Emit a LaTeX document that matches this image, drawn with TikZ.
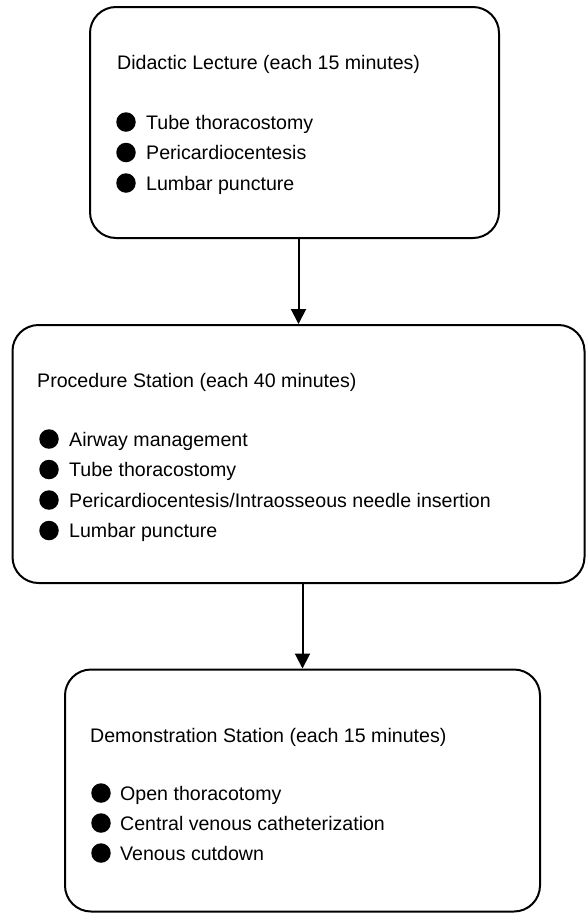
\documentclass[tikz,border=0pt]{standalone}
\usepackage{fontspec}
\setmainfont{Liberation Sans}
\usetikzlibrary{arrows.meta}

\begin{document}
\begin{tikzpicture}[x=1pt,y=-1pt]
	\tikzset{
		station/.style={draw, line width=2pt, rounded corners=26pt},
		heading/.style={anchor=base west, inner sep=0pt, font=\fontsize{19.6}{23}\selectfont},
		dot/.style={circle, fill, inner sep=0pt, minimum size=19.5pt},
		flow/.style={-{Triangle[length=15pt,width=15pt]}, line width=2pt}
	}
	\useasboundingbox (0,0) rectangle (587,914);

	\node[station, minimum width=409pt, minimum height=231pt] (didactic) at (294.5,122.5) {};
	\node[station, minimum width=572pt, minimum height=258pt] (procedure) at (298.5,454) {};
	\node[station, minimum width=475pt, minimum height=242pt] (demo) at (302.5,790.5) {};

	\node[heading] (didactic-title) at (117,69) {Didactic Lecture (each 15 minutes)};
	\foreach \txt [count=\i] in {Tube thoracostomy, Pericardiocentesis, Lumbar puncture} {
		\node[dot] (didactic-dot-\i) at (126, 91.5+30.5*\i) {};
		\node[heading] (didactic-item-\i) at ([shift={(20,7)}]didactic-dot-\i.center) {\txt};
	}

	\node[heading] (procedure-title) at (37,387) {Procedure Station (each 40 minutes)};
	\foreach \txt [count=\i] in {Airway management, Tube thoracostomy, Pericardiocentesis/Intraosseous needle insertion, Lumbar puncture} {
		\node[dot] (procedure-dot-\i) at (49, 408.5+30.5*\i) {};
		\node[heading] (procedure-item-\i) at ([shift={(20,7)}]procedure-dot-\i.center) {\txt};
	}

	\node[heading] (demo-title) at (90,742) {Demonstration Station (each 15 minutes)};
	\foreach \txt [count=\i] in {Open thoracotomy, Central venous catheterization, Venous cutdown} {
		\node[dot] (demo-dot-\i) at (101, 763+30*\i) {};
		\node[heading] (demo-item-\i) at ([shift={(19,7)}]demo-dot-\i.center) {\txt};
	}

	\draw[flow] (didactic.south -| procedure.north) -- (procedure.north);
	\draw[flow] (procedure.south -| demo.north) -- (demo.north);
\end{tikzpicture}
\end{document}
